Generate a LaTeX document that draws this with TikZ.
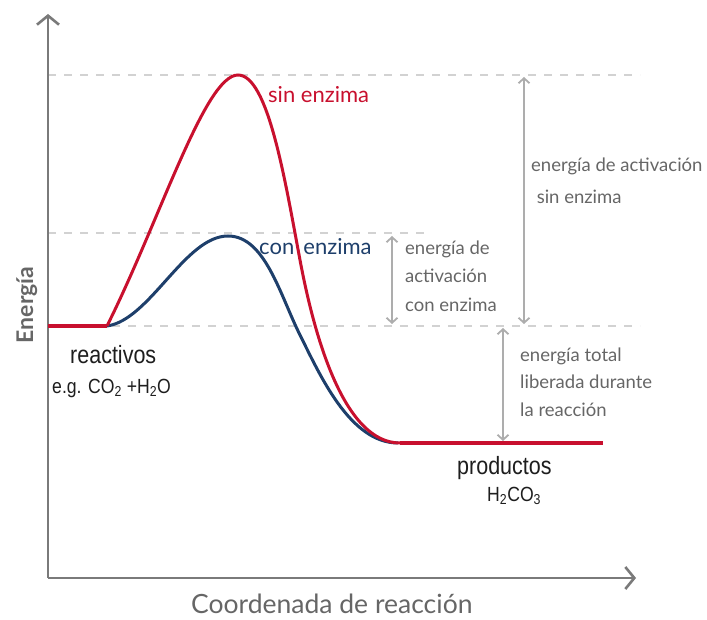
\documentclass[tikz,border=0pt]{standalone}
\usepackage{fontspec}
\setmainfont{Lato}
\newfontfamily\condfont[FakeStretch=0.86]{Liberation Sans}
\usetikzlibrary{arrows.meta}
\definecolor{redc}{HTML}{C8102E}
\definecolor{bluec}{HTML}{1E3F6B}
\definecolor{axisc}{HTML}{7A7A7A}
\definecolor{arrc}{HTML}{ADADAD}
\definecolor{dashc}{HTML}{D2D2D2}
\definecolor{labc}{HTML}{666666}
\definecolor{darkc}{HTML}{1E1E1E}
\begin{document}
\begin{tikzpicture}[x=1pt,y=-1pt,
  axisline/.style={draw=axisc, line width=2.6pt, -{Straight Barb[length=9pt,width=22pt]}},
  dimarrow/.style={draw=arrc, line width=1.8pt, {Straight Barb[length=5pt,width=11pt]}-{Straight Barb[length=5pt,width=11pt]}},
  guide/.style={draw=dashc, line width=1.6pt, dash pattern=on 8pt off 8pt},
  curvered/.style={draw=redc, line width=3pt},
  curveblue/.style={draw=bluec, line width=3pt},
  flatline/.style={draw=redc, line width=4pt},
  curvelab/.style={inner sep=0pt, anchor=base west, font=\fontsize{22}{26}\selectfont},
  graylab/.style={text=labc, inner sep=0pt, anchor=west, align=left, font=\fontsize{18.5}{28.5}\selectfont},
  specieslab/.style={text=darkc, inner sep=0pt, anchor=west, font=\condfont\fontsize{25}{28}\selectfont},
  formulalab/.style={text=darkc, inner sep=0pt, anchor=west, font=\condfont\fontsize{20.5}{24}\selectfont},
  axislab/.style={text=labc, inner sep=0pt, font=\fontsize{26.5}{30}\selectfont}
]
\useasboundingbox (0,0) rectangle (707,620);

% coordinates
\coordinate (O) at (48,578);
\coordinate (Ytop) at (48,14);
\coordinate (Xend) at (636,578);
\coordinate (R0) at (48,326);
\coordinate (R1) at (107,326);
\coordinate (Pr) at (238,75);
\coordinate (Mr) at (300,260);
\coordinate (Er) at (400,443);
\coordinate (Pb) at (228,236);
\coordinate (Mb) at (300,335);
\coordinate (Eb) at (398,443);
\coordinate (E2) at (603,443);

% dashed guides
\draw[guide] (48,75) -- (640,75);
\draw[guide] (48,233) -- (430,233);
\draw[guide] (48,326) -- (640,326);

% axes
\draw[axisline] (O) -- (Ytop);
\draw[axisline] (O) -- (Xend);

% dimension arrows
\coordinate (A1t) at (392,236);
\coordinate (A1b) at (392,324);
\coordinate (A2t) at (524,77);
\coordinate (A2b) at (524,324);
\coordinate (A3t) at (503,328);
\coordinate (A3b) at (503,441);
\draw[dimarrow] (A1t) -- (A1b);
\draw[dimarrow] (A2t) -- (A2b);
\draw[dimarrow] (A3t) -- (A3b);

% labels
\node[curvelab, text=redc] (lsin) at (268,103) {sin enzima};
\node[curvelab, text=bluec] (lcon) at (259,255) {con\hspace{0.42em}enzima};

\node[graylab] (lact1) at (405,276) {energía de\\activación\\con enzima};
\node[graylab, font=\fontsize{18.5}{32}\selectfont] (lact2) at (531,181) {energía de activación\\\hspace{0.3em}sin enzima};
\node[graylab, font=\fontsize{18.5}{27.5}\selectfont] (ltot) at (520,382) {energía total\\liberada durante\\la reacción};

\node[specieslab] (lreac) at (70,355) {reactivos};
\node[formulalab] (leg) at (52,388) {e.g. CO\textsubscript{2} +H\textsubscript{2}O};
\node[specieslab] (lprod) at (457,468) {productos};
\node[formulalab] (lh2co3) at (487,496) {H\textsubscript{2}CO\textsubscript{3}};

\node[axislab, font=\bfseries\fontsize{23}{26}\selectfont, rotate=90, anchor=base] (ly) at (33,305) {Energía};
\node[axislab, anchor=base west] (lx) at (191,613) {Coordenada de reacción};

% curves
\draw[curveblue] (R1) .. controls (150,320) and (185,236) .. (Pb)
  .. controls (265,236) and (280,295) .. (Mb)
  .. controls (320,375) and (350,443) .. (Eb);
\draw[curvered] (R1) .. controls (160,220) and (205,75) .. (Pr)
  .. controls (268,75) and (285,180) .. (Mr)
  .. controls (315,340) and (345,443) .. (Er);
\draw[flatline] (R0) -- (R1);
\draw[flatline] (Er) -- (E2);
\end{tikzpicture}
\end{document}
